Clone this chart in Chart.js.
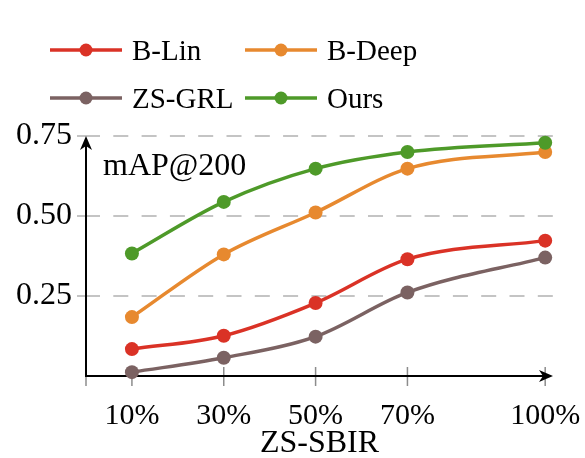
<!DOCTYPE html>
<html lang="en-US">
<head>
<meta charset="UTF-8">
<title>ZS-SBIR mAP@200</title>
<script src="https://cdn.jsdelivr.net/npm/chart.js@4.4.1/dist/chart.umd.min.js"></script>
<style>
    html, body { margin: 0; padding: 0; background: #fff; }
</style>
</head>
<body>
<canvas id="myChart" width="585" height="458"></canvas>
<script>
    // x positions are the training split percentages (the axis is linear in them)
    var splits = [10, 30, 50, 70, 100];
    var xTickValues = [0, 10, 30, 50, 70, 100];
    var yTickValues = [0.25, 0.50, 0.75];
    var seriesNames = ['B-Lin', 'B-Deep', 'ZS-GRL', 'Ours'];
    var bLin = [0.084, 0.126, 0.228, 0.365, 0.423];
    var bDeep = [0.184, 0.380, 0.511, 0.648, 0.700];
    var zsGrl = [0.012, 0.057, 0.123, 0.261, 0.370];
    var ours = [0.383, 0.544, 0.648, 0.700, 0.729];
    var seriesColors = ['#da3226', '#e7892f', '#7b6262', '#4e9a29'];

    var serif = "'Liberation Serif', 'DejaVu Serif', serif";

    function points(values) {
        return values.map(function (v, i) { return { x: splits[i], y: v }; });
    }

    function makeDataset(i, values, order) {
        return {
            label: seriesNames[i],
            data: points(values),
            borderColor: seriesColors[i],
            backgroundColor: seriesColors[i],
            pointBackgroundColor: seriesColors[i],
            pointBorderWidth: 0,
            pointRadius: 7,
            borderWidth: 3.5,
            cubicInterpolationMode: 'monotone',
            clip: false,
            order: order
        };
    }

    function arrowHead(ctx, tx, ty, dx, dy) {
        var len = 14, half = 6, notch = 4;
        var nx = -dy, ny = dx;
        ctx.beginPath();
        ctx.moveTo(tx, ty);
        ctx.lineTo(tx - len * dx + half * nx, ty - len * dy + half * ny);
        ctx.lineTo(tx - (len - notch) * dx, ty - (len - notch) * dy);
        ctx.lineTo(tx - len * dx - half * nx, ty - len * dy - half * ny);
        ctx.closePath();
        ctx.fill();
    }

    // axes with arrows, x tick marks, legend and the metric label
    var decorations = {
        id: 'decorations',
        beforeDatasetsDraw: function (chart) {
            var ctx = chart.ctx, xs = chart.scales.x, ys = chart.scales.y;
            var x0 = xs.getPixelForValue(0), y0 = ys.getPixelForValue(0);
            var xEnd = chart.chartArea.right, yEnd = chart.chartArea.top;
            ctx.save();
            ctx.strokeStyle = '#8c8c8c';
            ctx.lineWidth = 1.5;
            xTickValues.forEach(function (v) {
                var px = xs.getPixelForValue(v);
                ctx.beginPath();
                ctx.moveTo(px, y0 - 9);
                ctx.lineTo(px, y0 + 10);
                ctx.stroke();
            });
            ctx.strokeStyle = '#000';
            ctx.fillStyle = '#000';
            ctx.lineWidth = 2;
            ctx.beginPath();
            ctx.moveTo(x0, y0);
            ctx.lineTo(xEnd - 8, y0);
            ctx.moveTo(x0, y0 + 1);
            ctx.lineTo(x0, yEnd + 8);
            ctx.stroke();
            arrowHead(ctx, xEnd, y0, 1, 0);
            arrowHead(ctx, x0, yEnd, 0, -1);
            ctx.restore();
        },
        afterDraw: function (chart) {
            var ctx = chart.ctx;
            var cols = [50, 245], rows = [50, 98];
            ctx.save();
            ctx.font = '29px ' + serif;
            ctx.textBaseline = 'alphabetic';
            ctx.textAlign = 'left';
            seriesNames.forEach(function (name, i) {
                var lx = cols[i % 2], ly = rows[Math.floor(i / 2)];
                ctx.strokeStyle = seriesColors[i];
                ctx.fillStyle = seriesColors[i];
                ctx.lineWidth = 3.5;
                ctx.beginPath();
                ctx.moveTo(lx, ly);
                ctx.lineTo(lx + 72, ly);
                ctx.stroke();
                ctx.beginPath();
                ctx.arc(lx + 36, ly, 6.5, 0, Math.PI * 2);
                ctx.fill();
                ctx.fillStyle = '#000';
                ctx.fillText(name, lx + 82, ly + 9.5);
            });
            ctx.font = '32px ' + serif;
            ctx.fillText('mAP@200', 103, 175);
            ctx.restore();
        }
    };

    var ctx = document.getElementById('myChart').getContext('2d');
    var myChart = new Chart(ctx, {
        type: 'line',
        data: {
            datasets: [
                makeDataset(0, bLin, 2),
                makeDataset(1, bDeep, 1),
                makeDataset(2, zsGrl, 3),
                makeDataset(3, ours, 0)
            ]
        },
        options: {
            responsive: false,
            animation: false,
            layout: { padding: { top: 136, right: 32, left: 0, bottom: 0 } },
            plugins: {
                legend: { display: false },
                tooltip: { enabled: false }
            },
            scales: {
                x: {
                    type: 'linear',
                    min: 0,
                    max: 101.7,
                    afterFit: function (scale) {
                        scale.height = 82;
                        scale.paddingLeft = 0;
                        scale.paddingRight = 0;
                    },
                    afterBuildTicks: function (scale) {
                        scale.ticks = xTickValues.map(function (v) { return { value: v }; });
                    },
                    ticks: {
                        font: { family: serif, size: 30 },
                        color: '#000',
                        padding: 22,
                        maxRotation: 0,
                        autoSkip: false,
                        callback: function (v) { return v === 0 ? '' : v + '%'; }
                    },
                    grid: { display: false, drawTicks: false },
                    border: { display: false },
                    title: {
                        display: true,
                        text: 'ZS-SBIR',
                        font: { family: serif, size: 32, lineHeight: 0.8 },
                        color: '#000',
                        padding: { top: 0, bottom: 2 }
                    }
                },
                y: {
                    min: 0,
                    max: 0.75,
                    afterFit: function (scale) {
                        scale.width = 86;
                        scale.paddingTop = 0;
                        scale.paddingBottom = 0;
                    },
                    afterBuildTicks: function (scale) {
                        scale.ticks = yTickValues.map(function (v) { return { value: v }; });
                    },
                    ticks: {
                        font: { family: serif, size: 32 },
                        color: '#000',
                        padding: 5,
                        callback: function (v) { return v.toFixed(2); }
                    },
                    grid: {
                        color: '#c4c4c4',
                        lineWidth: 2,
                        tickLength: 9,
                        tickWidth: 2
                    },
                    border: { display: false, dash: [15, 13.3], dashOffset: 1 }
                }
            }
        },
        plugins: [decorations]
    });
</script>
</body>
</html>
